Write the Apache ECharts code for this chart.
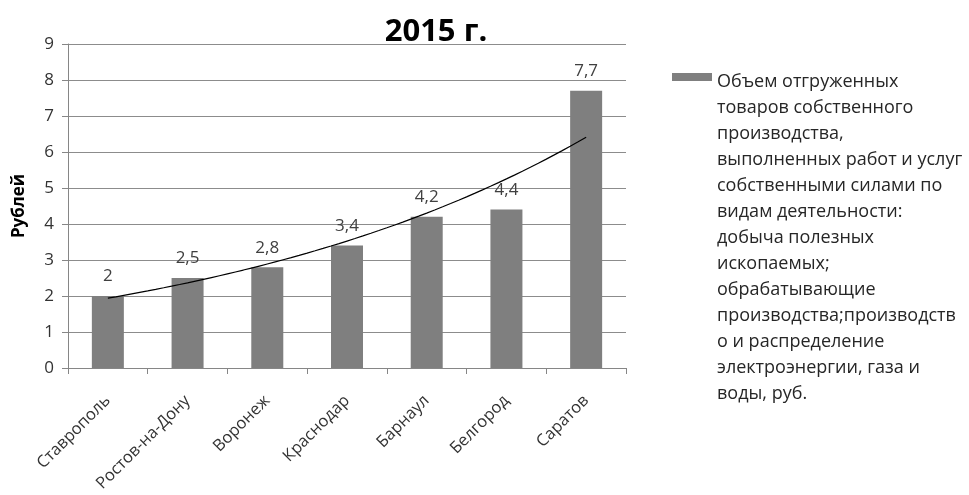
<!DOCTYPE html>
<html>
<head>
<meta charset="utf-8">
<script src="https://cdn.jsdelivr.net/npm/echarts@6/dist/echarts.min.js"></script>
<style>
html,body{margin:0;padding:0;background:#fff;}
#chart{width:969px;height:495px;}
</style>
</head>
<body>
<div id="chart"></div>
<script>
const titleText = '2015 г.';
const yAxisName = 'Рублей';
const categories = ['Ставрополь', 'Ростов-на-Дону', 'Воронеж', 'Краснодар', 'Барнаул', 'Белгород', 'Саратов'];
const values = [2, 2.5, 2.8, 3.4, 4.2, 4.4, 7.7];
const yMin = 0, yMax = 9, yInterval = 1;
const legendLines = [
  'Объем отгруженных',
  'товаров собственного',
  'производства,',
  'выполненных работ и услуг',
  'собственными силами по',
  'видам деятельности:',
  'добыча полезных',
  'ископаемых;',
  'обрабатывающие',
  'производства;производств',
  'о и распределение',
  'электроэнергии, газа и',
  'воды, руб.'
];
const seriesName = legendLines.join('\n');

// Exponential trendline: least-squares fit of ln(y) against category position (1..n),
// the same model the original spreadsheet trendline uses.
const n = values.length;
const xs = values.map((_, i) => i + 1);
const lnY = values.map(v => Math.log(v));
const mx = xs.reduce((a, b) => a + b, 0) / n;
const my = lnY.reduce((a, b) => a + b, 0) / n;
let sxy = 0, sxx = 0;
for (let i = 0; i < n; i++) { sxy += (xs[i] - mx) * (lnY[i] - my); sxx += (xs[i] - mx) * (xs[i] - mx); }
const slope = sxy / sxx;
const intercept = my - slope * mx;
const trendCurve = [];
for (let k = 0; k <= (n - 1) * 10; k++) {
  const x = 1 + k / 10;
  trendCurve.push([x, Math.exp(intercept + slope * x)]);
}

const FONT = '"Open Sans", "Noto Sans", sans-serif';
const LINE_H = 26;
const legendH = LINE_H * legendLines.length;

const chart = echarts.init(document.getElementById('chart'), null, {renderer: 'canvas'});
chart.setOption({
  animation: false,
  backgroundColor: '#ffffff',
  title: {
    text: titleText,
    left: 431,
    top: 12,
    textAlign: 'center',
    textStyle: {fontFamily: FONT, fontWeight: 'bold', fontSize: 31, color: '#000000'}
  },
  grid: {left: 68, right: 343, top: 44, bottom: 127, containLabel: false},
  legend: {
    data: [{name: seriesName, icon: 'path://M0,8H40V16H0Z M0,' + legendH + 'H40'}],
    left: 672,
    top: 69,
    padding: 0,
    itemWidth: 40,
    itemHeight: legendH,
    itemGap: 0,
    itemStyle: {borderWidth: 0},
    selectedMode: false,
    textStyle: {fontFamily: FONT, fontSize: 18, lineHeight: LINE_H, color: '#262626'}
  },
  xAxis: [
    {
      type: 'category',
      data: categories,
      boundaryGap: true,
      axisLine: {show: true, lineStyle: {color: '#868686', width: 1}},
      axisTick: {show: true, length: 6, interval: 0, lineStyle: {color: '#868686'}},
      axisLabel: {rotate: 45, interval: 0, margin: 30, fontFamily: FONT, fontSize: 16.5, color: '#333333'}
    },
    {
      type: 'value',
      min: 0.5,
      max: n + 0.5,
      show: false
    }
  ],
  yAxis: {
    type: 'value',
    min: yMin,
    max: yMax,
    interval: yInterval,
    name: yAxisName,
    nameLocation: 'middle',
    nameGap: 40,
    nameTextStyle: {fontFamily: FONT, fontWeight: 'bold', fontSize: 17, color: '#000000'},
    axisLine: {show: true, lineStyle: {color: '#868686', width: 1}},
    axisTick: {show: true, length: 6, lineStyle: {color: '#868686'}},
    axisLabel: {margin: 14, fontFamily: FONT, fontSize: 17, color: '#333333'},
    splitLine: {show: true, lineStyle: {color: '#8c8c8c', width: 1}}
  },
  series: [
    {
      name: seriesName,
      type: 'bar',
      data: values,
      barWidth: 32,
      itemStyle: {color: '#7f7f7f', borderWidth: 0},
      label: {
        show: true,
        position: 'top',
        distance: 11,
        fontFamily: FONT,
        fontSize: 17,
        color: '#404040',
        formatter: p => String(p.value).replace('.', ',')
      },
      z: 2
    },
    {
      name: 'trend',
      type: 'line',
      xAxisIndex: 1,
      data: trendCurve,
      symbol: 'none',
      lineStyle: {color: '#000000', width: 1.2},
      z: 5
    }
  ]
});
</script>
</body>
</html>
